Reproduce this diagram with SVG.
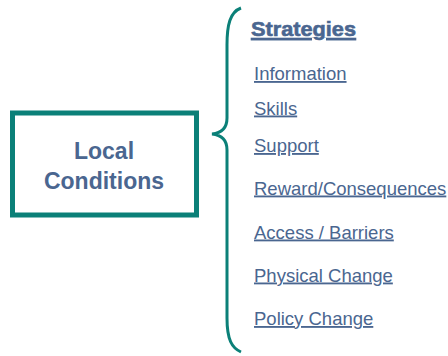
<svg xmlns="http://www.w3.org/2000/svg" width="448" height="356" viewBox="0 0 448 356">
<style>
.t{font-family:"Liberation Sans",Arial,sans-serif;fill:#4a6690}
.item{font-size:18.5px;text-decoration:underline}
</style>
<rect width="448" height="356" fill="#ffffff"/>
<g id="local-conditions">
<rect x="12.5" y="113" width="184" height="102" fill="#ffffff" stroke="#0b8078" stroke-width="5"/>
<text class="t" x="104" y="158.5" font-size="23" font-weight="bold" text-anchor="middle">Local</text>
<text class="t" x="104" y="188.5" font-size="23" font-weight="bold" text-anchor="middle">Conditions</text>
</g>
<g id="connectors">
<path d="M241,8 C230,12 227,25 227,45 L227,118 C227,128 222,133 212,134 C222,135 227,140 227,150 L227,318 C227,340 232,348 241,352" fill="none" stroke="#0b8078" stroke-width="3"/>
</g>
<g id="strategies">
<text class="t" x="251" y="36" font-size="21" font-weight="bold" text-decoration="underline" stroke="#4a6690" stroke-width="0.6" textLength="105" lengthAdjust="spacingAndGlyphs">Strategies</text>
<text class="t item" x="254" y="80">Information</text>
<text class="t item" x="254" y="114.5">Skills</text>
<text class="t item" x="254" y="152">Support</text>
<text class="t item" x="254" y="194.5">Reward/Consequences</text>
<text class="t item" x="254" y="238.5">Access / Barriers</text>
<text class="t item" x="254" y="281.5">Physical Change</text>
<text class="t item" x="254" y="325">Policy Change</text>
</g>
</svg>
